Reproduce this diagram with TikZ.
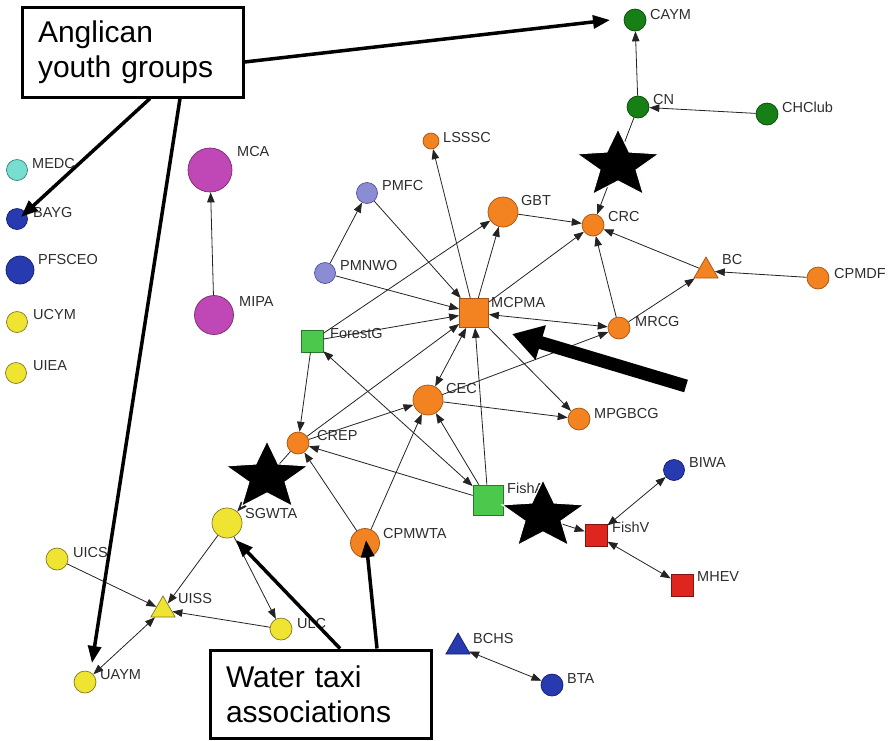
\documentclass[tikz,border=0pt]{standalone}
\usepackage{fontspec}
\setmainfont{Liberation Sans}
\usetikzlibrary{arrows.meta,shapes.geometric}

\definecolor{orgfill}{RGB}{243,130,32}
\definecolor{orgline}{RGB}{165,82,20}
\definecolor{dkgreen}{RGB}{22,128,22}
\definecolor{dkgreenline}{RGB}{10,70,10}
\definecolor{ltgreen}{RGB}{76,200,76}
\definecolor{ltgreenline}{RGB}{40,120,40}
\definecolor{lilac}{RGB}{140,140,212}
\definecolor{lilacline}{RGB}{80,80,150}
\definecolor{redsq}{RGB}{222,38,30}
\definecolor{redline}{RGB}{130,20,15}
\definecolor{navy}{RGB}{40,58,176}
\definecolor{navyline}{RGB}{20,30,110}
\definecolor{yel}{RGB}{240,228,50}
\definecolor{yelline}{RGB}{130,120,30}
\definecolor{aqua}{RGB}{120,222,208}
\definecolor{aqualine}{RGB}{50,130,120}
\definecolor{mag}{RGB}{192,72,182}
\definecolor{magline}{RGB}{120,40,110}
\definecolor{labgray}{RGB}{45,45,45}
\definecolor{edgegray}{RGB}{35,35,35}

\tikzset{
  dot/.style={circle, inner sep=0pt, line width=0.7pt},
  sq/.style={rectangle, inner sep=0pt, line width=0.7pt},
  tri/.style={regular polygon, regular polygon sides=3, inner sep=0pt, line width=0.7pt},
  orgn/.style={fill=orgfill, draw=orgline},
  greenn/.style={fill=dkgreen, draw=dkgreenline},
  ltgreenn/.style={fill=ltgreen, draw=ltgreenline},
  lilacn/.style={fill=lilac, draw=lilacline},
  redn/.style={fill=redsq, draw=redline},
  navyn/.style={fill=navy, draw=navyline},
  yeln/.style={fill=yel, draw=yelline},
  aquan/.style={fill=aqua, draw=aqualine},
  magn/.style={fill=mag, draw=magline},
  lab/.style={anchor=west, inner sep=0pt, text=labgray, font=\fontsize{14.5}{17}\selectfont},
  edge/.style={draw=edgegray, line width=0.8pt, -{Triangle[length=10pt,width=7.5pt]}},
  biedge/.style={draw=edgegray, line width=0.8pt, {Triangle[length=10pt,width=7.5pt]}-{Triangle[length=10pt,width=7.5pt]}},
  % five-pointed broker star, a little wider than tall
  brokerstar/.pic={
    \filldraw[fill=black, draw=white, line width=1pt]
      (-90:43 and 36) -- (-54:19 and 16) -- (-18:43 and 36) -- (18:19 and 16)
      -- (54:43 and 36) -- (90:19 and 16) -- (126:43 and 36) -- (162:19 and 16)
      -- (198:43 and 36) -- (234:19 and 16) -- cycle;
  },
  callout/.style={draw=black, line width=3pt, fill=white, align=left, inner xsep=16pt,
    font=\fontsize{30}{35}\selectfont, minimum width=221pt},
  pointer/.style={draw=black, line width=3.5pt, -{Triangle[length=17pt,width=13pt]}},
  bigpointer/.style={draw=black, line width=13pt, -{Triangle[length=30pt,width=34pt]}}
}

\begin{document}
\begin{tikzpicture}[x=1pt, y=-1pt]
\useasboundingbox (0,0) rectangle (892,740);

% ---- actors ----
\node[dot,greenn,minimum size=22pt] (CAYM) at (635,20) {};
\node[dot,greenn,minimum size=22pt] (CN) at (638,107) {};
\node[dot,greenn,minimum size=22pt] (CHClub) at (767,114) {};
\node[dot,orgn,minimum size=16pt] (LSSSC) at (431,141) {};
\node[dot,lilacn,minimum size=21pt] (PMFC) at (367,193) {};
\node[dot,orgn,minimum size=30pt] (GBT) at (503,212) {};
\node[dot,orgn,minimum size=22pt] (CRC) at (593,225) {};
\node[tri,orgn,minimum size=28pt] (BC) at (706,271) {};
\node[dot,orgn,minimum size=22pt] (CPMDF) at (818,278) {};
\node[dot,lilacn,minimum size=21pt] (PMNWO) at (325,273) {};
\node[sq,orgn,minimum size=29pt] (MCPMA) at (474,313) {};
\node[dot,orgn,minimum size=22pt] (MRCG) at (619,328) {};
\node[sq,ltgreenn,minimum size=22pt] (ForestG) at (312,341) {};
\node[dot,orgn,minimum size=30pt] (CEC) at (428,400) {};
\node[dot,orgn,minimum size=22pt] (MPGBCG) at (579,419) {};
\node[dot,orgn,minimum size=22pt] (CREP) at (298,443) {};
\node[dot,yeln,minimum size=30pt] (SGWTA) at (227,523) {};
\node[dot,orgn,minimum size=29pt] (CPMWTA) at (365,543) {};
\node[sq,ltgreenn,minimum size=30pt] (FishA) at (488,500) {};
\node[sq,redn,minimum size=22pt] (FishV) at (596,535) {};
\node[dot,navyn,minimum size=21pt] (BIWA) at (674,470) {};
\node[sq,redn,minimum size=22pt] (MHEV) at (682,585) {};
\node[tri,navyn,minimum size=28pt] (BCHS) at (458,647) {};
\node[dot,navyn,minimum size=22pt] (BTA) at (552,685) {};
\node[dot,yeln,minimum size=22pt] (UICS) at (57,559) {};
\node[tri,yeln,minimum size=28pt] (UISS) at (163,610) {};
\node[dot,yeln,minimum size=22pt] (ULC) at (281,629) {};
\node[dot,yeln,minimum size=22pt] (UAYM) at (85,682) {};
\node[dot,aquan,minimum size=21pt] (MEDC) at (17,170) {};
\node[dot,navyn,minimum size=21pt] (BAYG) at (17,219) {};
\node[dot,navyn,minimum size=28pt] (PFSCEO) at (20,270) {};
\node[dot,yeln,minimum size=21pt] (UCYM) at (17,322) {};
\node[dot,yeln,minimum size=21pt] (UIEA) at (16,373) {};
\node[dot,magn,minimum size=44pt] (MCA) at (210,170) {};
\node[dot,magn,minimum size=39pt] (MIPA) at (214,315) {};

% ---- names ----
\node[lab] (lCAYM) at (650,15) {CAYM};
\node[lab] (lCN) at (653,100) {CN};
\node[lab] (lCHClub) at (782,107) {CHClub};
\node[lab] (lLSSSC) at (443,138) {LSSSC};
\node[lab] (lPMFC) at (382,186) {PMFC};
\node[lab] (lGBT) at (521,201) {GBT};
\node[lab] (lCRC) at (608,217) {CRC};
\node[lab] (lBC) at (722,260) {BC};
\node[lab] (lCPMDF) at (834,274) {CPMDF};
\node[lab] (lPMNWO) at (340,266) {PMNWO};
\node[lab] (lMCPMA) at (491,302) {MCPMA};
\node[lab] (lMRCG) at (635,322) {MRCG};
\node[lab] (lForestG) at (330,334) {ForestG};
\node[lab] (lCEC) at (446,388) {CEC};
\node[lab] (lMPGBCG) at (594,413) {MPGBCG};
\node[lab] (lCREP) at (317,435) {CREP};
\node[lab] (lSGWTA) at (245,513) {SGWTA};
\node[lab] (lCPMWTA) at (383,533) {CPMWTA};
\node[lab] (lFishA) at (507,488) {FishA};
\node[lab] (lFishV) at (612,527) {FishV};
\node[lab] (lBIWA) at (689,463) {BIWA};
\node[lab] (lMHEV) at (697,577) {MHEV};
\node[lab] (lBCHS) at (473,638) {BCHS};
\node[lab] (lBTA) at (567,679) {BTA};
\node[lab] (lUICS) at (73,552) {UICS};
\node[lab] (lUISS) at (178,598) {UISS};
\node[lab] (lULC) at (297,623) {ULC};
\node[lab] (lUAYM) at (100,675) {UAYM};
\node[lab] (lMEDC) at (32,164) {MEDC};
\node[lab] (lBAYG) at (33,213) {BAYG};
\node[lab] (lPFSCEO) at (38,260) {PFSCEO};
\node[lab] (lUCYM) at (33,315) {UCYM};
\node[lab] (lUIEA) at (33,366) {UIEA};
\node[lab] (lMCA) at (237,152) {MCA};
\node[lab] (lMIPA) at (239,302) {MIPA};

% ---- ties between actors ----
\draw[edge] (CN) -- (CAYM);
\draw[edge] (CHClub) -- (CN);
\draw[edge] (CN) -- (CRC);
\draw[edge] (GBT) -- (CRC);
\draw[edge] (MCPMA) -- (CRC);
\draw[edge] (BC) -- (CRC);
\draw[edge] (MRCG) -- (CRC);
\draw[edge] (MRCG) -- (BC);
\draw[edge] (CPMDF) -- (BC);
\draw[biedge] (MCPMA) -- (MRCG);
\draw[edge] (CEC) -- (MRCG);
\draw[edge] (MCPMA) -- (LSSSC);
\draw[edge] (MCPMA) -- (GBT);
\draw[edge] (ForestG) -- (GBT);
\draw[edge] (PMNWO) -- (PMFC);
\draw[edge] (PMFC) -- (MCPMA);
\draw[edge] (PMNWO) -- (MCPMA);
\draw[edge] (ForestG) -- (MCPMA);
\draw[edge] (ForestG) -- (CREP);
\draw[biedge] (FishA) -- (ForestG);
\draw[edge] (CREP) -- (MCPMA);
\draw[edge] (CREP) -- (CEC);
\draw[biedge] (MCPMA) -- (CEC);
\draw[edge] (CEC) -- (MPGBCG);
\draw[edge] (MCPMA) -- (MPGBCG);
\draw[edge] (FishA) -- (MCPMA);
\draw[edge] (FishA) -- (CEC);
\draw[edge] (CPMWTA) -- (CEC);
\draw[edge] (FishA) -- (CREP);
\draw[edge] (CPMWTA) -- (CREP);
\draw[edge] (CREP) -- (SGWTA);
\draw[edge] (SGWTA) -- (UISS);
\draw[edge] (SGWTA) -- (ULC);
\draw[edge] (ULC) -- (UISS);
\draw[edge] (UICS) -- (UISS);
\draw[biedge] (UAYM) -- (UISS);
\draw[edge] (FishA) -- (FishV);
\draw[biedge] (FishV) -- (BIWA);
\draw[biedge] (FishV) -- (MHEV);
\draw[biedge] (BCHS) -- (BTA);
\draw[edge] (MIPA) -- (MCA);

% ---- stars marking brokers ----
\pic (star1) at (618,165) {brokerstar};
\pic (star2) at (267,477) {brokerstar};
\pic (star3) at (543,516) {brokerstar};

% ---- heavy pointer to the central actor ----
\coordinate (bigTail) at (686,386);
\coordinate (bigTip) at (512,334);
\draw[bigpointer] (bigTail) -- (bigTip);

% ---- callouts ----
\node[callout, minimum height=90pt, text width=189pt] (anglican) at (132.5,52) {Anglican\\youth groups};
\node[callout, minimum height=88pt, text width=189pt] (water) at (320.5,694) {Water taxi\\associations};

\coordinate (tCAYM) at (610,20);
\coordinate (tBAYG) at (21,217);
\coordinate (tUAYM) at (92,663);
\coordinate (tSGWTA) at (236,540);
\coordinate (tCPMWTA) at (366,540);

\draw[pointer] ([yshift=-10pt]anglican.east) -- (tCAYM);
\draw[pointer] ([xshift=17.5pt]anglican.south) -- (tBAYG);
\draw[pointer] ([xshift=47.5pt]anglican.south) -- (tUAYM);
\draw[pointer] ([xshift=19.5pt]water.north) -- (tSGWTA);
\draw[pointer] ([xshift=56.5pt]water.north) -- (tCPMWTA);
\end{tikzpicture}
\end{document}
